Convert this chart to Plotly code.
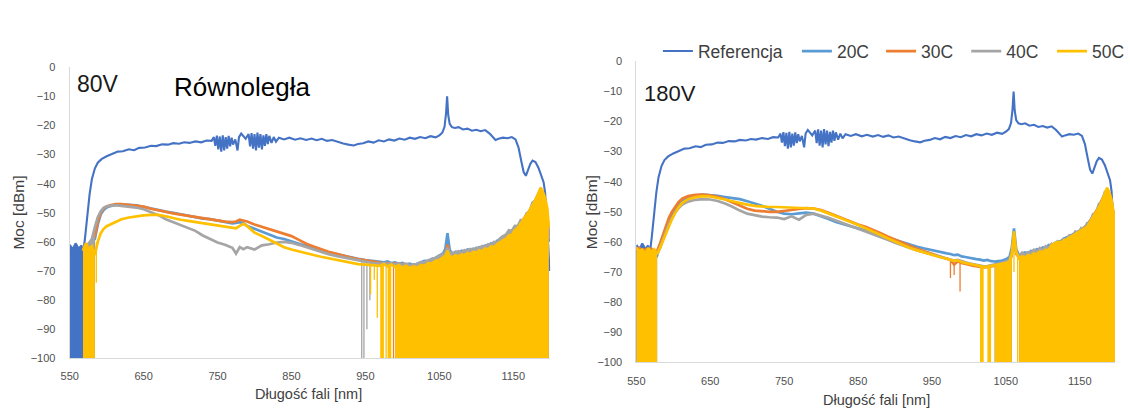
import plotly.graph_objects as go

FONT = "Liberation Sans, Arial, sans-serif"
W, H = 1130, 412

# ---------------------------------------------------------------- data
names = ["Referencja", "20C", "30C", "40C", "50C"]
colors = {"Referencja": "#4472C4", "20C": "#5B9BD5", "30C": "#ED7D31",
          "40C": "#A5A5A5", "50C": "#FFC000"}

x_ticks = [550, 650, 750, 850, 950, 1050, 1150]
y_ticks = [0, -10, -20, -30, -40, -50, -60, -70, -80, -90, -100]

NOISE_FLOOR = -110  # detector floor (below the visible range)

# reference spectrum (same source for both panels)
ref_wl = [550, 554, 558, 562, 566, 568, 571, 574, 577, 580,
          584, 588, 593, 600, 608, 615, 622, 630, 637, 644,
          652, 660, 667, 675, 683, 690, 698, 705, 712, 720,
          728, 735, 742, 745, 747, 749, 751, 753, 755, 757,
          759, 761, 763, 765, 767, 769, 771, 774, 777, 779,
          782, 785, 788, 792, 794, 796, 798, 800, 802, 804,
          806, 808, 810, 812, 814, 816, 818, 820, 823, 826,
          829, 833, 840, 847, 855, 862, 870, 877, 884, 891,
          898, 905, 912, 920, 927, 934, 940, 947, 954, 961,
          968, 975, 982, 989, 996, 1003, 1010, 1017, 1024, 1031,
          1038, 1045, 1050, 1054, 1057, 1059, 1060.5, 1062, 1064, 1067,
          1071, 1076, 1082, 1088, 1094, 1100, 1106, 1112, 1118, 1122,
          1126, 1130, 1136, 1142, 1148, 1153, 1157, 1161, 1164, 1167,
          1170, 1173, 1176, 1180, 1184, 1188, 1191, 1193, 1195, 1197,
          1199]
ref_pw = [-61.0, -62.5, -60.5, -62.3, -61.2, -64.5, -58.0, -50.0, -43.5, -38.5,
          -34.8, -32.8, -31.6, -30.6, -29.8, -29.0, -28.9, -28.2, -28.5, -27.7,
          -27.6, -27.0, -27.1, -26.5, -26.6, -26.1, -26.3, -25.8, -26.0, -25.5,
          -25.8, -25.2, -25.3, -24.0, -27.0, -23.5, -28.2, -23.8, -29.0, -23.4,
          -28.6, -24.0, -28.0, -23.6, -27.2, -24.2, -26.6, -24.8, -28.6, -24.0,
          -22.8, -23.6, -24.6, -23.0, -27.2, -22.6, -28.0, -23.0, -28.6, -22.5,
          -27.6, -23.0, -28.2, -23.4, -27.0, -23.0, -26.4, -23.6, -26.0, -24.0,
          -25.6, -24.2, -24.8, -24.2, -24.9, -24.4, -25.0, -24.5, -25.1, -24.6,
          -25.3, -25.0, -25.6, -26.2, -26.6, -26.9, -26.4, -26.1, -25.5, -25.9,
          -25.1, -25.5, -24.8, -25.2, -24.5, -24.9, -24.2, -24.6, -24.0, -24.4,
          -23.7, -24.1, -23.4, -22.5, -20.5, -16.0, -10.0, -16.5, -19.5, -20.6,
          -20.9, -20.6, -21.4, -21.1, -21.8, -21.5, -22.0, -21.6, -22.8, -24.0,
          -25.0, -24.6, -24.2, -24.4, -24.0, -24.8, -27.5, -32.5, -36.0, -37.3,
          -35.5, -33.2, -32.1, -32.6, -34.5, -37.0, -39.5, -43.0, -50.0, -60.0,
          -70.0]
ref_floor = [(550, 568)]

# 80 V panel
wl_80 = [568, 572, 576, 580, 584, 588, 592, 596, 600, 606,
         612, 620, 630, 640, 650, 660, 670, 680, 690, 700,
         710, 720, 730, 740, 750, 760, 770, 775, 780, 785,
         790, 800, 810, 820, 830, 840, 850, 860, 870, 880,
         890, 900, 910, 920, 930, 940, 950, 960, 970, 975,
         980, 985, 990, 995, 1000, 1005, 1010, 1015, 1020, 1025,
         1030, 1035, 1040, 1045, 1050, 1055, 1058, 1061, 1064, 1068,
         1072, 1076, 1080, 1084, 1088, 1092, 1096, 1100, 1104, 1108,
         1112, 1116, 1120, 1124, 1128, 1132, 1136, 1140, 1144, 1148,
         1152, 1156, 1160, 1164, 1168, 1172, 1176, 1180, 1184, 1187,
         1190, 1193, 1196, 1198]
p80_20C = [-62.5, -61.0, -62.0, -60.0, -59.0, -54.0, -50.5, -49.0, -48.2, -47.6,
           -47.3, -47.2, -47.3, -47.4, -48.0, -48.5, -49.0, -49.6, -50.0, -50.5,
           -51.0, -51.6, -52.0, -52.2, -52.6, -53.0, -53.6, -53.5, -53.2, -53.6,
           -54.5, -55.5, -56.5, -57.5, -58.5, -59.0, -59.8, -60.8, -61.6, -62.2,
           -63.0, -63.6, -64.2, -64.8, -65.3, -65.8, -66.2, -66.4, -66.8, -67.0,
           -66.7, -67.3, -67.0, -67.5, -67.2, -67.8, -67.5, -68.0, -67.4, -67.0,
           -66.5, -66.6, -65.8, -65.5, -64.6, -64.0, -62.5, -57.0, -62.8, -64.0,
           -63.4, -63.8, -63.0, -63.4, -62.6, -62.9, -62.3, -62.6, -61.8, -62.1,
           -61.2, -61.5, -60.5, -60.8, -59.6, -59.0, -58.4, -58.0, -57.0, -56.5,
           -55.6, -55.0, -53.8, -52.6, -51.5, -49.8, -48.0, -46.2, -44.0, -43.0,
           -44.0, -46.0, -52.0, -60.0]
p80_30C = [-62.0, -61.5, -61.0, -60.0, -58.0, -53.0, -50.0, -48.5, -47.8, -47.3,
           -47.0, -47.0, -47.3, -47.5, -47.9, -48.6, -49.2, -49.6, -50.2, -50.6,
           -51.0, -51.5, -52.0, -52.4, -52.8, -53.0, -53.2, -53.0, -52.4, -52.6,
           -53.0, -54.0, -54.8, -55.5, -56.2, -57.0, -58.0, -59.3, -60.6, -61.6,
           -62.6, -63.4, -64.0, -64.8, -65.4, -65.9, -66.3, -66.8, -67.2, -67.6,
           -67.2, -67.8, -67.4, -68.0, -67.6, -68.3, -67.9, -68.6, -68.0, -67.5,
           -67.4, -66.9, -66.6, -66.0, -65.3, -64.8, -64.0, -61.0, -64.0, -64.8,
           -64.2, -64.5, -64.0, -64.2, -63.5, -63.6, -63.0, -63.3, -62.6, -62.8,
           -62.0, -62.2, -61.2, -61.4, -60.3, -59.5, -59.0, -58.3, -57.5, -56.8,
           -55.8, -54.8, -53.5, -52.0, -50.5, -49.3, -47.5, -45.5, -43.0, -42.0,
           -43.0, -45.5, -50.0, -58.0]
p80_40C = [-63.0, -61.0, -60.5, -59.0, -55.0, -51.5, -49.5, -48.3, -47.8, -47.5,
           -47.4, -47.6, -47.9, -48.2, -48.8, -49.8, -50.8, -52.2, -53.2, -54.0,
           -55.0, -56.2, -57.8, -59.0, -60.2, -61.0, -62.0, -64.0, -61.8, -62.5,
           -61.8, -62.6, -61.2, -60.8, -60.2, -60.0, -60.3, -61.0, -61.8, -62.8,
           -63.5, -64.2, -64.8, -65.3, -65.9, -66.5, -67.0, -67.3, -67.5, -67.2,
           -67.6, -67.3, -67.8, -67.4, -67.9, -67.5, -68.1, -67.7, -67.6, -67.0,
           -66.9, -66.3, -66.0, -65.4, -65.0, -64.3, -63.8, -62.0, -63.6, -64.0,
           -63.6, -63.2, -63.6, -62.8, -63.0, -62.4, -62.8, -62.0, -62.2, -61.4,
           -61.7, -60.8, -61.0, -60.0, -60.2, -58.8, -58.0, -57.5, -56.0, -56.2,
           -54.5, -54.6, -52.5, -52.8, -50.2, -49.5, -46.5, -45.8, -43.5, -42.5,
           -44.5, -46.5, -51.0, -59.0]
p80_50C = [-63.0, -60.5, -62.5, -61.5, -64.5, -60.0, -57.0, -55.5, -54.6, -53.8,
           -53.0, -52.2, -51.6, -51.2, -50.9, -50.7, -50.7, -51.2, -51.9, -52.4,
           -52.8, -53.2, -53.5, -53.9, -54.3, -54.7, -55.1, -55.3, -54.5, -53.8,
           -54.6, -56.8, -58.0, -59.3, -60.6, -61.8, -62.6, -63.3, -63.9, -64.5,
           -65.1, -65.6, -66.1, -66.7, -67.3, -67.6, -67.8, -68.0, -68.2, -67.6,
           -68.4, -67.8, -68.6, -68.0, -68.8, -68.2, -69.0, -68.4, -68.8, -68.0,
           -68.2, -67.3, -67.4, -66.5, -66.2, -65.3, -64.8, -63.0, -65.0, -65.2,
           -64.6, -65.0, -64.3, -64.6, -63.8, -64.2, -63.4, -63.7, -62.9, -63.2,
           -62.3, -62.6, -61.6, -61.8, -60.8, -60.2, -59.4, -59.0, -57.8, -57.6,
           -56.0, -55.2, -53.8, -52.4, -50.8, -49.2, -47.4, -45.6, -43.2, -41.4,
           -42.8, -45.0, -48.5, -55.0]

# wavelength ranges where each trace collapses into the noise floor
floor_80 = {"20C": [(568, 584), (990, 1198)],
            "30C": [(568, 584), (990, 1198)],
            "40C": [(568, 584), (990, 1198)],
            "50C": [(568, 584), (970, 975), (980, 985), (990, 1198)]}
# isolated drop-outs: wavelength, level before the drop, lowest level
drop_80 = {"30C": ([988], [-67.6], [-110]),
           "40C": ([945, 948, 952, 956, 972, 982],
                   [-66.8, -67.0, -67.0, -67.2, -67.5, -67.5],
                   [-110, -110, -90, -80, -110, -110]),
           "50C": ([586, 957, 962, 966, 978],
                   [-60.0, -68.0, -68.0, -68.2, -68.0],
                   [-74, -78, -73, -86, -110])}

# 180 V panel
wl_180 = [550, 554, 558, 562, 566, 570, 574, 578, 582, 586,
          590, 594, 598, 602, 607, 612, 620, 630, 640, 650,
          660, 670, 680, 690, 700, 710, 720, 730, 740, 750,
          760, 770, 780, 790, 800, 810, 820, 830, 840, 850,
          860, 870, 880, 890, 900, 910, 920, 930, 940, 950,
          960, 970, 975, 980, 985, 990, 995, 1000, 1005, 1010,
          1015, 1020, 1025, 1030, 1035, 1040, 1045, 1050, 1055, 1058,
          1061, 1064, 1068, 1072, 1076, 1080, 1084, 1088, 1092, 1096,
          1100, 1104, 1108, 1112, 1116, 1120, 1124, 1128, 1132, 1136,
          1140, 1144, 1148, 1152, 1156, 1160, 1164, 1168, 1172, 1176,
          1180, 1184, 1187, 1190, 1193, 1196, 1198]
p180_20C = [-63.0, -64.5, -63.0, -65.0, -63.5, -65.0, -63.5, -64.5, -61.0, -58.0,
            -55.5, -53.0, -51.0, -49.5, -47.8, -46.5, -45.3, -44.6, -44.3, -44.4,
            -44.7, -45.1, -45.5, -45.8, -46.5, -47.2, -48.0, -49.0, -50.0, -50.6,
            -50.8, -50.5, -50.3, -50.6, -51.4, -52.4, -53.4, -54.1, -54.8, -55.4,
            -56.0, -56.9, -57.8, -58.6, -59.3, -60.0, -60.9, -61.6, -62.2, -62.8,
            -63.3, -63.8, -64.0, -64.4, -64.2, -64.8, -65.0, -65.3, -65.5, -65.7,
            -65.9, -66.2, -66.0, -66.4, -66.5, -66.4, -66.2, -65.8, -65.0, -62.0,
            -55.5, -62.5, -64.5, -64.0, -63.5, -63.8, -63.0, -63.2, -62.4, -62.6,
            -61.8, -62.0, -61.0, -61.3, -60.4, -60.0, -59.8, -59.0, -58.6, -58.0,
            -57.6, -57.0, -56.6, -56.0, -55.4, -54.5, -53.0, -51.5, -50.5, -48.0,
            -46.5, -44.0, -42.8, -44.0, -46.5, -52.0, -60.0]
p180_30C = [-62.5, -62.0, -64.0, -62.5, -64.0, -62.0, -64.5, -63.0, -60.5, -57.5,
            -54.5, -52.0, -50.0, -48.5, -46.8, -45.6, -44.8, -44.4, -44.3, -44.5,
            -45.0, -45.8, -46.8, -48.0, -49.0, -49.6, -49.9, -50.0, -50.0, -49.8,
            -49.4, -49.0, -48.8, -48.9, -49.4, -50.3, -51.3, -52.4, -53.3, -54.2,
            -55.0, -55.9, -57.0, -58.2, -59.3, -60.3, -61.3, -62.3, -63.2, -64.0,
            -64.8, -65.6, -66.0, -67.5, -66.4, -67.0, -67.4, -67.6, -67.9, -68.1,
            -68.3, -68.5, -68.4, -68.2, -68.0, -67.8, -67.5, -67.2, -66.6, -64.5,
            -58.0, -64.0, -65.2, -64.2, -64.8, -63.8, -64.2, -63.2, -63.6, -62.6,
            -63.0, -62.0, -62.4, -61.4, -61.0, -60.6, -60.0, -59.8, -59.2, -58.4,
            -58.0, -57.2, -56.8, -56.0, -55.2, -54.4, -53.0, -51.4, -49.8, -48.2,
            -46.0, -43.8, -42.6, -44.0, -46.5, -51.5, -59.0]
p180_40C = [-62.0, -65.0, -62.5, -64.0, -63.0, -65.5, -62.5, -64.0, -62.0, -59.0,
            -56.5, -54.0, -52.0, -50.5, -48.8, -47.6, -46.6, -46.0, -45.8, -45.9,
            -46.4, -47.2, -48.3, -49.6, -50.6, -51.2, -51.6, -51.8, -51.9, -52.4,
            -51.5, -52.6, -51.0, -50.6, -51.2, -52.0, -52.9, -53.8, -54.6, -55.5,
            -56.4, -57.3, -58.3, -59.3, -60.3, -61.2, -62.0, -62.8, -63.5, -64.2,
            -64.8, -65.4, -65.8, -66.2, -66.0, -66.5, -66.8, -67.1, -67.4, -67.7,
            -67.9, -68.1, -68.0, -67.8, -67.5, -67.2, -66.9, -66.5, -66.0, -63.8,
            -59.0, -63.5, -64.8, -63.6, -64.4, -63.4, -63.6, -62.6, -63.2, -62.0,
            -62.6, -61.4, -62.0, -60.6, -61.2, -59.8, -60.4, -59.0, -59.4, -57.8,
            -58.4, -56.6, -57.2, -55.4, -55.8, -53.8, -53.6, -50.8, -50.6, -47.4,
            -46.8, -43.4, -43.0, -44.8, -47.0, -52.0, -60.0]
p180_50C = [-62.0, -63.0, -62.5, -64.0, -62.0, -63.5, -62.5, -64.0, -62.0, -59.5,
            -57.0, -54.5, -52.5, -50.5, -48.5, -47.0, -45.8, -45.1, -44.8, -44.9,
            -45.3, -45.9, -46.5, -47.1, -47.6, -48.0, -48.3, -48.4, -48.4, -48.5,
            -48.6, -48.6, -48.7, -48.9, -49.6, -50.5, -51.5, -52.5, -53.4, -54.4,
            -55.4, -56.5, -57.6, -58.8, -59.9, -61.0, -62.0, -62.8, -63.6, -64.3,
            -65.0, -65.6, -65.9, -66.3, -66.1, -66.7, -67.0, -67.3, -67.6, -67.9,
            -68.1, -68.3, -68.2, -68.0, -67.8, -67.6, -67.3, -67.0, -66.5, -64.0,
            -56.5, -63.5, -65.5, -64.8, -65.2, -64.4, -64.7, -63.8, -64.0, -63.2,
            -63.4, -62.6, -62.8, -61.0, -60.5, -60.0, -60.2, -59.5, -59.2, -58.6,
            -58.2, -57.6, -57.0, -56.4, -55.8, -55.0, -53.4, -51.8, -50.2, -48.5,
            -46.5, -44.2, -42.0, -43.5, -46.0, -50.5, -57.0]

floor_180 = {"20C": [(550, 578), (1035, 1058), (1068, 1198)],
             "30C": [(550, 578), (1035, 1058), (1068, 1198)],
             "40C": [(550, 578), (1035, 1058), (1068, 1198)],
             "50C": [(550, 578), (1015, 1020), (1025, 1030),
                     (1035, 1058), (1068, 1198)]}
drop_180 = {"30C": ([975, 980, 988], [-66.0, -67.5, -66.8], [-72, -71, -76.5]),
            "50C": ([1061, 1066], [-56.5, -64.5], [-70, -110])}

panels = [
    dict(xa="x", ya="y", wl=wl_80,
         series={"20C": p80_20C, "30C": p80_30C, "40C": p80_40C, "50C": p80_50C},
         floors=floor_80, drops=drop_80, legend=False),
    dict(xa="x2", ya="y2", wl=wl_180,
         series={"20C": p180_20C, "30C": p180_30C, "40C": p180_40C, "50C": p180_50C},
         floors=floor_180, drops=drop_180, legend=True),
]

assert len(ref_wl) == len(ref_pw), (len(ref_wl), len(ref_pw))
for p in panels:
    for k, v in p["series"].items():
        assert len(v) == len(p["wl"]), (k, len(v), len(p["wl"]))


# ---------------------------------------------------------------- traces
def floor_band(wl, pw, lo, hi, color, xa, ya):
    xs = [w for w in wl if lo <= w <= hi]
    ys = [v for w, v in zip(wl, pw) if lo <= w <= hi]
    return go.Scatter(x=xs + [xs[-1], xs[0]], y=ys + [NOISE_FLOOR, NOISE_FLOOR],
                      mode="lines", fill="toself", fillcolor=color,
                      line=dict(width=0, color=color), xaxis=xa, yaxis=ya,
                      showlegend=False, hoverinfo="skip")


def dropouts(wls, tops, lows, color, xa, ya):
    x, y = [], []
    for w, t, lo in zip(wls, tops, lows):
        x += [w, w, None]
        y += [t, lo, None]
    return go.Scatter(x=x, y=y, mode="lines", line=dict(color=color, width=1.3),
                      xaxis=xa, yaxis=ya, showlegend=False, hoverinfo="skip")


# one legend box per series so each entry sits at its own spot in the top row
legend_of = {n: ("legend" if i == 0 else f"legend{i + 1}") for i, n in enumerate(names)}
legend_x = {"Referencja": 663, "20C": 805, "30C": 891, "40C": 978, "50C": 1066}
line_w = {"Referencja": 2.1, "20C": 2.7, "30C": 2.7, "40C": 2.7, "50C": 2.7}

fig = go.Figure()
for p in panels:
    xa, ya = p["xa"], p["ya"]
    c = colors["Referencja"]
    for lo, hi in ref_floor:
        fig.add_trace(floor_band(ref_wl, ref_pw, lo, hi, c, xa, ya))
    fig.add_trace(go.Scatter(x=ref_wl, y=ref_pw, mode="lines", name="Referencja",
                             line=dict(color=c, width=line_w["Referencja"]),
                             xaxis=xa, yaxis=ya, showlegend=p["legend"],
                             legend=legend_of["Referencja"]))
    for name in names[1:]:
        c = colors[name]
        pw = p["series"][name]
        for lo, hi in p["floors"].get(name, []):
            fig.add_trace(floor_band(p["wl"], pw, lo, hi, c, xa, ya))
        fig.add_trace(go.Scatter(x=p["wl"], y=pw, mode="lines", name=name,
                                 line=dict(color=c, width=line_w[name]),
                                 xaxis=xa, yaxis=ya, showlegend=p["legend"],
                                 legend=legend_of[name]))
        if name in p["drops"]:
            fig.add_trace(dropouts(*p["drops"][name], c, xa, ya))

# ---------------------------------------------------------------- layout
tick_font = dict(family=FONT, size=11, color="#505050")
axis_base = dict(showgrid=False, zeroline=False, showline=True, linecolor="#D9D9D9",
                 linewidth=1, ticks="", tickfont=tick_font, fixedrange=True)

legend_style = dict(orientation="h", y=1 - 28 / H, xanchor="left", yanchor="top",
                    font=dict(family=FONT, size=17.5, color="#404040"),
                    bgcolor="rgba(0,0,0,0)")
legends = {legend_of[n]: dict(x=legend_x[n] / W, **legend_style) for n in names}

fig.update_layout(
    width=W, height=H, margin=dict(l=0, r=0, t=0, b=0),
    paper_bgcolor="white", plot_bgcolor="white",
    font=dict(family=FONT, color="#404040"),
    xaxis=dict(domain=[62 / W, 553 / W], range=[550, 1200], tickvals=x_ticks,
               anchor="y", ticklabelstandoff=7, **axis_base),
    yaxis=dict(domain=[1 - 363 / H, 1 - 63 / H], range=[-100, 0], tickvals=y_ticks,
               anchor="x", ticklabelstandoff=11, **axis_base),
    xaxis2=dict(domain=[641 / W, 1.0], range=[550, 1197.7], tickvals=x_ticks,
                anchor="y2", ticklabelstandoff=8, **axis_base),
    yaxis2=dict(domain=[1 - 367 / H, 1 - 57 / H], range=[-100, 0], tickvals=y_ticks,
                anchor="x2", ticklabelstandoff=11, **axis_base),
    showlegend=True,
    **legends,
)


def label(x, y, text, size, color="#404040", angle=0, xanchor="center"):
    fig.add_annotation(x=x / W, y=1 - y / H, xref="paper", yref="paper", text=text,
                       showarrow=False, textangle=angle, xanchor=xanchor, yanchor="middle",
                       font=dict(family=FONT, size=size, color=color))


label(10, 213, "Moc [dBm]", 15.5, angle=-90)
label(595, 212, "Moc [dBm]", 15.5, angle=-90)
label(306, 400, "Długość fali [nm]", 14.5)
label(886, 406, "Długość fali [nm]", 14.5)
label(67, 80, "80V", 23, color="#1A1A1A", xanchor="left")
label(167, 83, "Równoległa", 26, color="#000000", xanchor="left")
label(647, 90, "180V", 22, color="#1A1A1A", xanchor="left")

# the page body keeps no default margin, so the figure fills the window exactly
fig.write_html("out.html", post_script="document.body.style.margin = '0';")
